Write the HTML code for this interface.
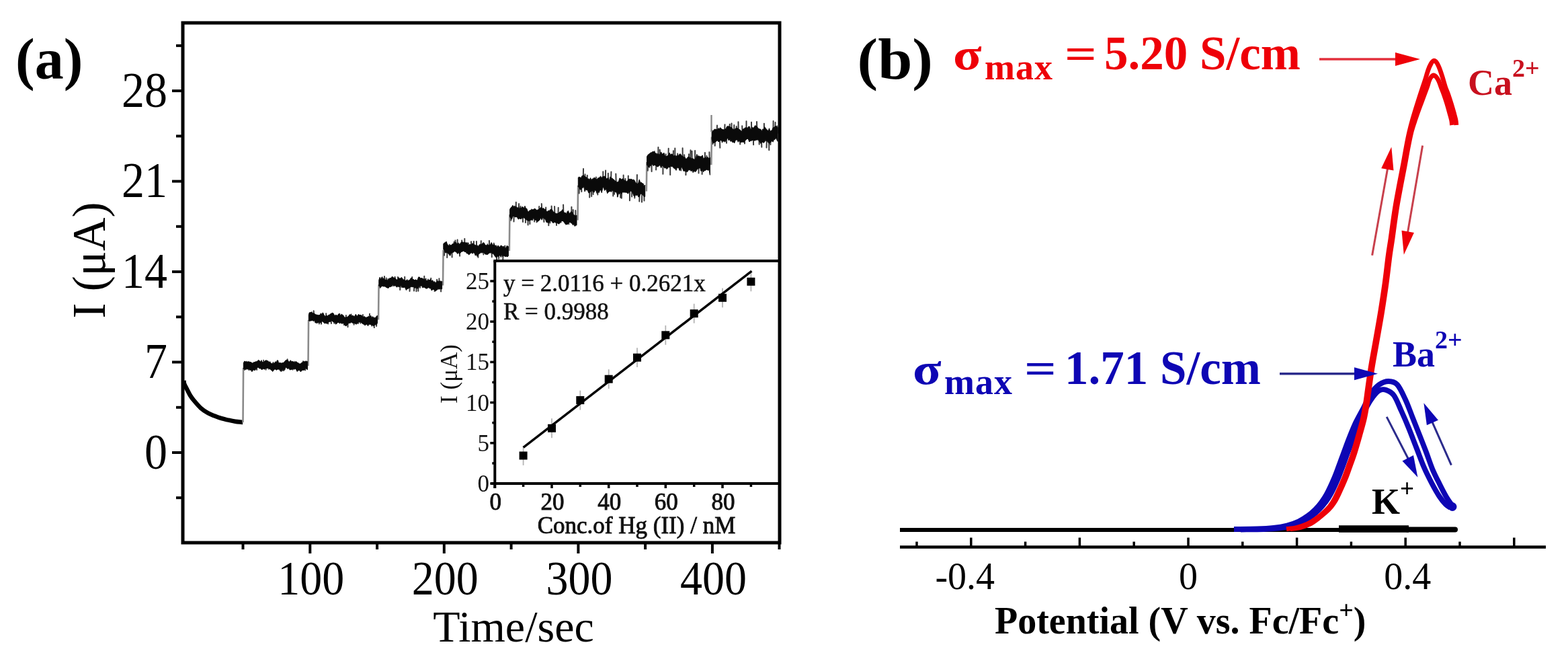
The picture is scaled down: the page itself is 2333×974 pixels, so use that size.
<!DOCTYPE html>
<html><head><meta charset="utf-8"><title>Figure</title>
<style>html,body{margin:0;padding:0;background:#fff;width:2333px;height:974px;overflow:hidden}svg{display:block;filter:blur(0.6px)}</style>
</head><body>
<svg width="2333" height="974" viewBox="0 0 2333 974"><g stroke="#000" fill="none" stroke-linecap="butt">
<line x1="256" y1="673.0" x2="272" y2="673.0" stroke-width="4"/>
<line x1="256" y1="538.5" x2="272" y2="538.5" stroke-width="4"/>
<line x1="256" y1="404.1" x2="272" y2="404.1" stroke-width="4"/>
<line x1="256" y1="269.6" x2="272" y2="269.6" stroke-width="4"/>
<line x1="256" y1="135.1" x2="272" y2="135.1" stroke-width="4"/>
<line x1="262" y1="740.2" x2="272" y2="740.2" stroke-width="4"/>
<line x1="262" y1="605.8" x2="272" y2="605.8" stroke-width="4"/>
<line x1="262" y1="471.3" x2="272" y2="471.3" stroke-width="4"/>
<line x1="262" y1="336.8" x2="272" y2="336.8" stroke-width="4"/>
<line x1="262" y1="202.4" x2="272" y2="202.4" stroke-width="4"/>
<line x1="262" y1="67.9" x2="272" y2="67.9" stroke-width="4"/>
<line x1="461.3" y1="807" x2="461.3" y2="823" stroke-width="4"/>
<line x1="660.8" y1="807" x2="660.8" y2="823" stroke-width="4"/>
<line x1="860.4" y1="807" x2="860.4" y2="823" stroke-width="4"/>
<line x1="1059.9" y1="807" x2="1059.9" y2="823" stroke-width="4"/>
<line x1="361.5" y1="807" x2="361.5" y2="817" stroke-width="4"/>
<line x1="561.1" y1="807" x2="561.1" y2="817" stroke-width="4"/>
<line x1="760.6" y1="807" x2="760.6" y2="817" stroke-width="4"/>
<line x1="960.1" y1="807" x2="960.1" y2="817" stroke-width="4"/>
<line x1="1159.5" y1="807" x2="1159.5" y2="817" stroke-width="4"/>
</g>
<path d="M273.5,566.0 C273.6,566.8 273.4,568.6 274.2,570.8 C275.0,573.0 276.8,576.1 278.3,579.0 C279.8,581.9 281.3,585.2 283.0,588.0 C284.7,590.8 285.9,592.4 288.5,595.5 C291.1,598.6 295.4,603.7 298.8,606.8 C302.2,609.9 305.7,612.0 309.1,614.0 C312.5,616.0 316.0,617.2 319.4,618.6 C322.8,620.0 326.2,621.2 329.6,622.2 C333.0,623.2 336.5,623.9 339.9,624.7 C343.3,625.5 346.9,626.3 350.2,626.8 C353.4,627.3 357.6,627.6 359.4,627.8 C361.2,628.0 360.7,628.0 361.0,628.0" fill="none" stroke="#000" stroke-width="6.5" stroke-linecap="butt"/>
<path d="M361.5,628.0 L362.1,547.0 M458.5,544.0 L459.1,476.0 M563.0,475.4 L563.6,423.3 M659.0,424.6 L659.6,371.5 M757.8,373.0 L758.4,319.0 M859.5,327.6 L860.1,275.7 M961.8,284.5 L962.4,241.0 M1058.3,245.3 L1058.9,203.5" fill="none" stroke="#8a8a8a" stroke-width="2.6"/>
<path d="M364.0,543.9 L363.9,550.1 M368.4,542.9 L367.9,548.6 M370.9,543.2 L370.5,550.3 M375.0,545.2 L374.8,552.0 M378.5,545.3 L379.1,539.9 M382.2,542.7 L382.1,550.1 M386.4,541.6 L386.1,547.4 M389.3,542.8 L389.0,536.2 M392.4,543.2 L392.2,535.8 M395.7,542.4 L395.6,549.7 M400.0,542.2 L400.0,548.7 M402.2,543.9 L401.6,538.2 M406.3,545.4 L406.5,539.0 M409.8,544.8 L409.8,538.3 M413.8,543.4 L413.5,536.8 M416.6,544.4 L416.7,550.8 M420.5,544.7 L420.7,551.1 M423.9,542.2 L423.8,549.1 M427.3,541.6 L427.6,534.2 M431.5,543.5 L431.6,549.4 M435.9,544.1 L435.5,549.7 M439.1,543.7 L438.6,537.8 M442.9,544.2 L442.5,551.5 M446.7,546.3 L447.2,552.0 M451.1,544.7 L451.0,537.3 M454.5,543.2 L454.1,550.4 M461.0,472.1 L460.4,466.1 M464.3,471.1 L463.9,464.2 M467.3,471.0 L466.7,462.3 M471.2,474.0 L471.8,480.3 M475.1,474.7 L474.9,481.5 M478.2,473.9 L478.0,481.7 M481.4,473.1 L480.9,467.1 M485.5,475.2 L485.2,466.2 M488.3,475.1 L488.2,481.6 M492.7,472.4 L492.9,481.0 M497.0,473.0 L497.3,480.7 M499.3,474.1 L499.6,481.4 M503.0,474.4 L503.5,468.4 M505.5,473.7 L505.3,466.7 M509.4,474.1 L509.6,480.8 M512.3,475.9 L511.9,483.1 M514.9,477.8 L514.9,468.9 M517.6,477.1 L517.5,486.3 M520.1,474.9 L519.9,468.8 M522.5,474.2 L522.6,467.5 M526.7,475.6 L526.6,482.8 M530.1,475.8 L529.6,468.8 M533.0,474.6 L533.0,480.9 M536.6,474.0 L536.4,480.6 M539.4,475.4 L539.9,468.0 M543.6,477.3 L543.0,483.2 M547.4,476.7 L547.5,484.1 M549.6,475.8 L550.0,466.8 M553.8,477.9 L553.3,484.6 M556.3,478.9 L556.8,487.1 M560.2,476.4 L560.1,484.9 M565.5,421.0 L565.6,427.8 M569.1,420.3 L568.7,412.3 M571.8,420.1 L572.0,411.0 M574.5,421.3 L574.7,413.5 M577.1,422.1 L577.4,414.9 M580.5,421.0 L580.4,414.2 M584.0,418.5 L583.6,425.2 M587.8,419.3 L587.6,411.7 M592.2,421.0 L592.0,412.0 M595.4,420.0 L595.2,431.0 M598.0,419.5 L597.4,426.8 M602.3,421.9 L602.2,411.8 M606.5,423.4 L605.9,416.3 M610.0,422.4 L609.5,433.0 M613.6,420.7 L613.2,412.0 M616.5,421.7 L616.0,432.4 M619.8,422.4 L619.4,433.3 M622.3,421.9 L622.3,432.8 M624.6,419.7 L625.1,427.8 M628.2,420.1 L628.6,427.2 M631.0,421.1 L631.3,410.8 M633.6,422.7 L633.6,414.5 M636.7,423.1 L636.9,415.6 M640.9,422.7 L641.2,413.7 M643.2,423.6 L643.3,430.5 M646.7,425.3 L646.6,433.1 M650.2,425.1 L650.1,415.7 M653.4,423.4 L653.4,414.2 M656.2,423.4 L656.1,433.4 M661.5,366.7 L661.0,379.7 M665.7,369.6 L665.2,383.0 M668.4,371.3 L668.8,363.7 M672.4,369.9 L672.6,382.5 M675.3,367.8 L675.6,359.8 M678.0,367.7 L677.4,357.6 M680.8,368.5 L680.6,356.6 M683.7,370.1 L684.1,380.6 M687.3,367.6 L687.2,357.6 M691.3,367.0 L691.3,355.1 M694.0,368.1 L694.4,376.1 M696.6,370.3 L696.9,361.6 M701.0,369.8 L701.0,359.3 M705.1,369.5 L704.9,358.9 M709.2,372.4 L708.9,359.0 M711.9,372.2 L711.4,382.7 M715.5,370.7 L715.8,358.3 M719.6,368.9 L719.4,378.5 M722.7,370.2 L723.1,378.1 M724.9,372.3 L725.4,363.2 M728.3,370.9 L727.9,357.9 M731.5,370.1 L731.8,382.3 M735.2,371.2 L734.8,361.8 M739.4,374.2 L739.0,386.4 M742.6,373.7 L742.1,384.8 M745.8,372.9 L745.5,381.8 M748.7,373.3 L748.3,386.0 M751.3,374.9 L751.3,365.5 M753.8,374.7 L754.4,366.1 M760.3,316.9 L760.3,327.7 M764.7,314.3 L764.5,329.6 M767.7,314.2 L767.8,300.7 M771.7,317.7 L772.1,303.1 M775.1,317.8 L774.5,306.8 M777.8,316.3 L778.0,329.9 M781.8,317.2 L781.9,330.9 M785.4,320.8 L785.6,334.4 M788.1,320.7 L788.4,333.1 M790.5,320.2 L790.9,311.4 M794.8,317.9 L795.2,329.6 M798.9,319.7 L798.6,330.4 M802.0,319.1 L802.2,307.0 M806.4,316.4 L805.8,303.1 M808.8,316.5 L809.4,329.9 M812.1,320.3 L812.2,308.5 M816.4,322.7 L816.3,335.2 M818.9,321.2 L818.4,331.5 M821.1,320.8 L820.6,306.5 M825.5,323.0 L825.1,307.1 M827.8,324.5 L828.0,335.0 M830.4,323.8 L830.7,308.7 M834.6,321.2 L834.7,330.4 M838.4,320.8 L838.1,304.4 M842.8,325.0 L842.2,333.6 M846.5,324.1 L846.3,333.3 M850.4,323.5 L850.4,307.7 M852.7,325.3 L852.7,311.9 M856.5,328.1 L856.3,312.9 M862.0,271.3 L861.6,287.5 M865.2,272.2 L865.3,285.1 M867.7,270.0 L868.0,251.0 M870.4,270.8 L870.5,259.3 M873.7,273.5 L873.8,260.8 M877.5,276.7 L877.2,293.6 M879.9,277.2 L880.2,292.1 M882.2,274.9 L882.6,289.0 M886.4,274.0 L886.9,263.4 M889.7,276.0 L889.3,289.4 M893.8,274.9 L893.7,262.6 M897.4,271.5 L897.3,255.3 M900.8,271.8 L901.1,253.5 M905.0,276.1 L904.8,257.8 M908.9,275.7 L909.4,255.6 M912.2,275.3 L912.3,291.6 M914.5,275.8 L914.1,288.8 M916.9,278.0 L916.3,258.5 M919.3,279.8 L918.8,292.4 M922.9,277.6 L923.2,293.8 M925.3,276.4 L924.8,294.8 M927.8,276.6 L927.6,260.6 M930.3,277.7 L930.4,265.7 M934.5,278.4 L934.8,261.6 M937.1,277.4 L936.9,298.2 M940.2,276.1 L940.1,292.4 M944.6,280.3 L944.3,294.5 M947.6,281.4 L947.9,260.1 M951.9,279.7 L951.3,299.5 M955.3,279.7 L955.0,300.5 M958.4,284.1 L958.5,298.6 M964.3,238.7 L963.8,253.7 M966.9,237.1 L966.4,248.7 M969.5,235.6 L969.6,255.1 M973.5,235.9 L973.8,225.3 M976.5,238.1 L976.1,252.4 M979.3,239.5 L979.4,219.1 M982.3,237.5 L981.7,222.8 M986.5,237.7 L986.4,258.8 M990.1,240.2 L990.7,229.3 M994.3,241.1 L994.7,220.7 M997.2,238.9 L997.2,260.0 M1001.6,239.1 L1001.9,224.3 M1004.3,240.7 L1004.3,220.6 M1008.3,240.7 L1008.2,228.4 M1011.0,238.9 L1011.0,252.6 M1013.4,238.9 L1013.3,253.6 M1015.8,239.9 L1015.6,220.3 M1018.5,243.8 L1018.2,230.2 M1020.8,245.9 L1020.4,260.1 M1024.6,242.7 L1025.0,229.3 M1027.1,242.9 L1027.5,223.2 M1029.7,243.1 L1029.5,224.7 M1034.1,245.1 L1034.1,224.1 M1036.8,243.1 L1037.1,231.2 M1039.6,240.7 L1039.5,257.6 M1042.4,240.7 L1042.8,253.5 M1044.9,242.7 L1044.6,259.1 M1048.8,244.6 L1048.9,226.9 M1051.8,243.2 L1051.4,231.8 M1055.9,244.1 L1055.4,226.3 M1060.8,202.0 L1060.6,214.0 M1064.0,202.9 L1063.7,216.7 M1066.4,201.5 L1067.0,186.5 M1070.7,199.5 L1071.3,219.8 M1074.3,200.7 L1074.5,211.6 M1077.9,201.3 L1078.5,185.2 M1081.2,199.5 L1081.0,212.8 M1085.5,197.0 L1085.7,184.8 M1088.7,200.6 L1088.5,183.5 M1092.2,201.8 L1092.3,186.1 M1095.3,200.2 L1095.8,188.0 M1098.8,200.4 L1098.5,181.3 M1101.2,201.8 L1101.2,214.6 M1104.7,203.5 L1104.2,187.3 M1108.1,202.4 L1108.0,213.5 M1110.5,199.5 L1110.5,180.3 M1114.3,198.6 L1114.9,210.1 M1118.2,200.5 L1118.0,181.7 M1120.7,199.3 L1121.1,215.3 M1123.3,197.8 L1122.9,208.6 M1126.3,197.4 L1126.0,181.0 M1129.2,200.0 L1129.7,214.6 M1132.8,202.7 L1133.3,218.8 M1137.0,201.7 L1136.9,183.8 M1141.0,200.9 L1140.5,219.6 M1144.1,203.2 L1144.3,223.2 M1146.4,203.8 L1146.4,215.1 M1150.4,199.9 L1150.6,180.1 M1153.2,196.8 L1153.6,181.9 M1156.7,198.0 L1156.3,187.5" fill="none" stroke="#3a3a3a" stroke-width="2" stroke-linecap="round"/>
<path d="M362.3,540.0 L363.7,537.0 L365.1,538.1 L366.5,537.3 L367.9,538.2 L369.3,537.7 L370.7,537.9 L372.1,538.5 L373.5,538.4 L374.9,540.1 L376.3,539.9 L377.7,538.4 L379.1,539.0 L380.5,537.4 L381.9,538.0 L383.3,536.4 L384.7,535.4 L386.1,536.5 L387.5,537.7 L388.9,537.1 L390.3,538.2 L391.7,538.5 L393.1,538.0 L394.5,536.5 L395.9,535.6 L397.3,536.6 L398.7,536.6 L400.1,538.5 L401.5,538.7 L402.9,539.8 L404.3,540.7 L405.7,540.2 L407.1,540.4 L408.5,539.8 L409.9,538.4 L411.3,538.5 L412.7,535.5 L414.1,539.2 L415.5,539.6 L416.9,539.6 L418.3,540.1 L419.7,539.8 L421.1,539.5 L422.5,539.0 L423.9,537.1 L425.3,535.6 L426.7,535.8 L428.1,535.4 L429.5,537.7 L430.9,538.1 L432.3,535.7 L433.7,537.7 L435.1,537.6 L436.5,537.8 L437.9,539.0 L439.3,538.9 L440.7,537.4 L442.1,539.3 L443.5,539.2 L444.9,541.1 L446.3,540.9 L447.7,540.8 L449.1,539.0 L450.5,538.9 L451.9,537.8 L453.3,537.7 L454.7,537.1 L456.1,537.2 L457.5,537.5 L457.5,549.7 L456.1,548.7 L454.7,547.3 L453.3,549.6 L451.9,550.4 L450.5,550.5 L449.1,550.8 L447.7,552.6 L446.3,551.1 L444.9,550.6 L443.5,550.9 L442.1,552.3 L440.7,549.7 L439.3,548.2 L437.9,549.3 L436.5,548.5 L435.1,548.8 L433.7,549.5 L432.3,549.6 L430.9,549.4 L429.5,547.6 L428.1,548.5 L426.7,547.2 L425.3,546.2 L423.9,548.1 L422.5,551.6 L421.1,548.9 L419.7,550.0 L418.3,552.9 L416.9,549.8 L415.5,549.4 L414.1,549.0 L412.7,549.3 L411.3,550.4 L409.9,549.0 L408.5,549.3 L407.1,550.4 L405.7,552.5 L404.3,550.7 L402.9,549.9 L401.5,548.6 L400.1,547.9 L398.7,547.2 L397.3,547.9 L395.9,547.2 L394.5,548.5 L393.1,549.2 L391.7,547.9 L390.3,549.6 L388.9,549.2 L387.5,547.9 L386.1,547.4 L384.7,546.7 L383.3,546.4 L381.9,547.6 L380.5,549.2 L379.1,551.0 L377.7,550.0 L376.3,550.8 L374.9,552.3 L373.5,550.3 L372.1,550.3 L370.7,548.4 L369.3,549.4 L367.9,547.7 L366.5,549.0 L365.1,549.5 L363.7,548.3 L362.3,548.7 Z M459.3,468.4 L460.7,464.6 L462.1,464.7 L463.5,464.5 L464.9,465.5 L466.3,466.0 L467.7,466.1 L469.1,467.5 L470.5,468.0 L471.9,468.2 L473.3,468.7 L474.7,468.5 L476.1,468.4 L477.5,465.7 L478.9,467.9 L480.3,464.8 L481.7,467.7 L483.1,469.9 L484.5,470.2 L485.9,469.1 L487.3,470.3 L488.7,468.4 L490.1,468.4 L491.5,466.8 L492.9,466.2 L494.3,465.4 L495.7,465.6 L497.1,467.9 L498.5,469.3 L499.9,468.0 L501.3,469.4 L502.7,468.5 L504.1,466.5 L505.5,467.9 L506.9,469.2 L508.3,466.9 L509.7,468.4 L511.1,469.3 L512.5,471.9 L513.9,472.1 L515.3,471.6 L516.7,471.7 L518.1,470.1 L519.5,470.2 L520.9,467.4 L522.3,469.4 L523.7,469.5 L525.1,469.3 L526.5,470.3 L527.9,470.2 L529.3,467.3 L530.7,470.5 L532.1,469.6 L533.5,467.2 L534.9,468.6 L536.3,468.5 L537.7,468.7 L539.1,470.6 L540.5,471.3 L541.9,470.5 L543.3,471.5 L544.7,472.2 L546.1,471.8 L547.5,470.9 L548.9,470.6 L550.3,471.3 L551.7,469.1 L553.1,472.8 L554.5,470.6 L555.9,472.4 L557.3,472.4 L558.7,472.4 L560.1,470.3 L561.5,469.3 L561.5,480.5 L560.1,482.8 L558.7,482.7 L557.3,483.8 L555.9,484.7 L554.5,483.7 L553.1,483.5 L551.7,482.8 L550.3,482.4 L548.9,482.0 L547.5,484.1 L546.1,482.1 L544.7,482.5 L543.3,483.5 L541.9,482.3 L540.5,482.1 L539.1,481.1 L537.7,479.5 L536.3,478.8 L534.9,479.1 L533.5,478.9 L532.1,479.5 L530.7,482.1 L529.3,481.8 L527.9,480.8 L526.5,480.4 L525.1,480.7 L523.7,479.5 L522.3,479.2 L520.9,480.7 L519.5,480.3 L518.1,481.1 L516.7,483.2 L515.3,484.4 L513.9,484.6 L512.5,482.6 L511.1,480.7 L509.7,480.1 L508.3,481.3 L506.9,479.6 L505.5,481.2 L504.1,479.5 L502.7,479.4 L501.3,481.0 L499.9,481.9 L498.5,479.1 L497.1,478.9 L495.7,478.7 L494.3,477.4 L492.9,476.5 L491.5,478.6 L490.1,478.2 L488.7,478.9 L487.3,481.0 L485.9,481.1 L484.5,480.4 L483.1,481.0 L481.7,479.7 L480.3,478.3 L478.9,477.7 L477.5,480.3 L476.1,479.4 L474.7,480.3 L473.3,479.5 L471.9,479.4 L470.5,480.1 L469.1,480.0 L467.7,476.5 L466.3,477.8 L464.9,476.3 L463.5,476.9 L462.1,476.9 L460.7,477.5 L459.3,476.8 Z M563.8,416.4 L565.2,412.2 L566.6,415.5 L568.0,412.3 L569.4,414.5 L570.8,414.0 L572.2,415.0 L573.6,416.3 L575.0,415.5 L576.4,417.0 L577.8,416.8 L579.2,414.0 L580.6,413.7 L582.0,413.5 L583.4,411.2 L584.8,412.1 L586.2,413.6 L587.6,413.0 L589.0,415.0 L590.4,416.0 L591.8,415.5 L593.2,412.8 L594.6,414.1 L596.0,414.0 L597.4,412.3 L598.8,414.2 L600.2,415.9 L601.6,415.9 L603.0,417.9 L604.4,416.7 L605.8,417.5 L607.2,417.3 L608.6,416.7 L610.0,416.1 L611.4,413.4 L612.8,413.5 L614.2,415.5 L615.6,415.6 L617.0,417.1 L618.4,415.6 L619.8,416.9 L621.2,416.6 L622.6,412.1 L624.0,411.9 L625.4,413.7 L626.8,413.7 L628.2,413.7 L629.6,414.7 L631.0,415.5 L632.4,414.9 L633.8,417.7 L635.2,417.0 L636.6,417.5 L638.0,416.5 L639.4,416.3 L640.8,415.3 L642.2,418.1 L643.6,416.6 L645.0,419.6 L646.4,418.4 L647.8,420.5 L649.2,419.8 L650.6,417.3 L652.0,418.7 L653.4,417.8 L654.8,418.1 L656.2,418.2 L657.6,418.5 L657.6,429.7 L656.2,429.7 L654.8,429.6 L653.4,430.2 L652.0,429.6 L650.6,431.0 L649.2,431.8 L647.8,433.1 L646.4,430.9 L645.0,430.3 L643.6,430.3 L642.2,432.1 L640.8,428.7 L639.4,429.0 L638.0,427.4 L636.6,428.1 L635.2,429.1 L633.8,428.9 L632.4,428.0 L631.0,426.9 L629.6,427.6 L628.2,425.2 L626.8,424.9 L625.4,425.6 L624.0,424.7 L622.6,428.7 L621.2,428.7 L619.8,429.1 L618.4,427.7 L617.0,428.3 L615.6,426.8 L614.2,426.7 L612.8,426.6 L611.4,426.6 L610.0,427.2 L608.6,428.2 L607.2,429.4 L605.8,429.2 L604.4,431.6 L603.0,428.1 L601.6,427.2 L600.2,427.6 L598.8,427.6 L597.4,424.9 L596.0,424.6 L594.6,426.8 L593.2,426.3 L591.8,426.0 L590.4,427.0 L589.0,425.8 L587.6,424.3 L586.2,425.9 L584.8,423.6 L583.4,423.9 L582.0,426.2 L580.6,426.5 L579.2,426.6 L577.8,428.6 L576.4,428.0 L575.0,427.4 L573.6,426.5 L572.2,425.8 L570.8,426.0 L569.4,425.5 L568.0,425.3 L566.6,427.3 L565.2,426.5 L563.8,425.1 Z M659.8,362.5 L661.2,361.2 L662.6,360.5 L664.0,359.1 L665.4,362.7 L666.8,364.9 L668.2,365.4 L669.6,364.5 L671.0,364.9 L672.4,363.4 L673.8,362.6 L675.2,362.2 L676.6,361.1 L678.0,360.1 L679.4,362.3 L680.8,362.4 L682.2,361.2 L683.6,363.5 L685.0,361.7 L686.4,360.0 L687.8,359.9 L689.2,360.3 L690.6,360.8 L692.0,360.0 L693.4,361.5 L694.8,360.3 L696.2,364.1 L697.6,364.5 L699.0,363.4 L700.4,364.0 L701.8,363.5 L703.2,361.6 L704.6,363.7 L706.0,363.9 L707.4,364.4 L708.8,365.7 L710.2,364.7 L711.6,366.4 L713.0,364.2 L714.4,363.3 L715.8,363.6 L717.2,362.9 L718.6,360.9 L720.0,360.9 L721.4,363.3 L722.8,365.1 L724.2,364.7 L725.6,364.0 L727.0,365.0 L728.4,364.6 L729.8,363.4 L731.2,360.6 L732.6,363.5 L734.0,364.6 L735.4,363.0 L736.8,366.2 L738.2,364.7 L739.6,367.8 L741.0,364.9 L742.4,367.1 L743.8,367.3 L745.2,365.1 L746.6,365.4 L748.0,367.4 L749.4,365.9 L750.8,368.5 L752.2,369.5 L753.6,366.9 L755.0,366.1 L756.4,366.5 L756.4,380.6 L755.0,381.9 L753.6,381.2 L752.2,381.6 L750.8,381.0 L749.4,380.0 L748.0,381.8 L746.6,378.6 L745.2,381.7 L743.8,379.7 L742.4,380.6 L741.0,381.6 L739.6,380.7 L738.2,382.9 L736.8,381.6 L735.4,379.5 L734.0,377.1 L732.6,377.3 L731.2,375.8 L729.8,376.0 L728.4,376.1 L727.0,376.7 L725.6,378.7 L724.2,378.1 L722.8,377.4 L721.4,377.5 L720.0,375.4 L718.6,375.6 L717.2,376.0 L715.8,375.6 L714.4,376.5 L713.0,377.3 L711.6,377.8 L710.2,381.6 L708.8,378.5 L707.4,380.2 L706.0,376.6 L704.6,375.5 L703.2,377.3 L701.8,375.8 L700.4,376.3 L699.0,377.7 L697.6,379.0 L696.2,376.9 L694.8,377.0 L693.4,373.8 L692.0,375.0 L690.6,373.7 L689.2,373.1 L687.8,374.2 L686.4,374.3 L685.0,376.2 L683.6,377.6 L682.2,375.3 L680.8,377.5 L679.4,375.5 L678.0,374.4 L676.6,373.7 L675.2,374.6 L673.8,375.6 L672.4,375.7 L671.0,377.2 L669.6,380.4 L668.2,378.2 L666.8,377.1 L665.4,375.2 L664.0,376.0 L662.6,375.8 L661.2,372.2 L659.8,370.7 Z M758.6,311.3 L760.0,308.9 L761.4,307.7 L762.8,305.3 L764.2,307.5 L765.6,305.9 L767.0,307.7 L768.4,307.6 L769.8,309.3 L771.2,308.5 L772.6,311.0 L774.0,308.3 L775.4,310.2 L776.8,307.7 L778.2,307.7 L779.6,309.9 L781.0,306.3 L782.4,310.0 L783.8,310.2 L785.2,314.2 L786.6,314.9 L788.0,312.9 L789.4,312.7 L790.8,312.2 L792.2,311.7 L793.6,311.6 L795.0,310.5 L796.4,310.5 L797.8,312.3 L799.2,312.4 L800.6,311.7 L802.0,311.6 L803.4,309.7 L804.8,308.3 L806.2,309.9 L807.6,309.9 L809.0,309.7 L810.4,311.5 L811.8,310.9 L813.2,314.6 L814.6,314.5 L816.0,313.1 L817.4,313.5 L818.8,311.5 L820.2,311.2 L821.6,311.9 L823.0,315.1 L824.4,315.2 L825.8,317.2 L827.2,317.2 L828.6,317.7 L830.0,317.3 L831.4,316.9 L832.8,315.1 L834.2,314.8 L835.6,313.5 L837.0,311.5 L838.4,314.6 L839.8,316.8 L841.2,316.1 L842.6,318.3 L844.0,314.8 L845.4,313.3 L846.8,317.3 L848.2,317.1 L849.6,314.7 L851.0,315.0 L852.4,317.5 L853.8,320.0 L855.2,320.0 L856.6,321.0 L858.0,320.0 L858.0,334.8 L856.6,335.3 L855.2,336.5 L853.8,333.6 L852.4,334.7 L851.0,332.0 L849.6,331.7 L848.2,330.5 L846.8,330.4 L845.4,332.5 L844.0,333.8 L842.6,333.0 L841.2,333.1 L839.8,331.3 L838.4,329.2 L837.0,328.5 L835.6,328.3 L834.2,329.8 L832.8,332.1 L831.4,333.1 L830.0,332.2 L828.6,331.3 L827.2,331.4 L825.8,330.4 L824.4,330.6 L823.0,331.8 L821.6,330.1 L820.2,328.0 L818.8,328.3 L817.4,330.0 L816.0,331.5 L814.6,330.8 L813.2,330.8 L811.8,327.2 L810.4,325.0 L809.0,324.3 L807.6,323.5 L806.2,327.2 L804.8,323.8 L803.4,326.3 L802.0,328.1 L800.6,329.0 L799.2,329.7 L797.8,327.0 L796.4,327.4 L795.0,325.1 L793.6,324.5 L792.2,327.8 L790.8,326.8 L789.4,327.5 L788.0,327.8 L786.6,328.6 L785.2,328.0 L783.8,327.3 L782.4,326.1 L781.0,325.1 L779.6,323.6 L778.2,325.0 L776.8,323.5 L775.4,325.8 L774.0,325.1 L772.6,325.1 L771.2,326.1 L769.8,323.6 L768.4,322.4 L767.0,322.9 L765.6,322.2 L764.2,320.9 L762.8,322.0 L761.4,326.0 L760.0,324.7 L758.6,322.4 Z M860.3,264.0 L861.7,263.1 L863.1,263.8 L864.5,264.6 L865.9,261.6 L867.3,261.1 L868.7,260.6 L870.1,263.1 L871.5,263.1 L872.9,264.0 L874.3,266.2 L875.7,265.7 L877.1,267.8 L878.5,264.4 L879.9,267.9 L881.3,265.9 L882.7,265.9 L884.1,263.9 L885.5,265.0 L886.9,266.5 L888.3,267.1 L889.7,264.6 L891.1,265.0 L892.5,263.0 L893.9,263.8 L895.3,264.3 L896.7,262.4 L898.1,262.6 L899.5,262.1 L900.9,263.0 L902.3,266.0 L903.7,265.1 L905.1,264.1 L906.5,269.0 L907.9,262.8 L909.3,265.5 L910.7,264.8 L912.1,266.4 L913.5,267.0 L914.9,269.3 L916.3,269.1 L917.7,271.2 L919.1,270.7 L920.5,270.0 L921.9,264.9 L923.3,265.6 L924.7,266.9 L926.1,265.8 L927.5,266.3 L928.9,268.8 L930.3,267.8 L931.7,269.7 L933.1,270.0 L934.5,267.4 L935.9,266.2 L937.3,266.5 L938.7,266.3 L940.1,266.8 L941.5,267.5 L942.9,267.0 L944.3,268.7 L945.7,271.7 L947.1,272.4 L948.5,273.8 L949.9,271.7 L951.3,266.9 L952.7,271.7 L954.1,271.0 L955.5,272.7 L956.9,272.9 L958.3,276.4 L959.7,275.0 L959.7,292.3 L958.3,292.5 L956.9,290.4 L955.5,288.8 L954.1,288.0 L952.7,288.6 L951.3,292.4 L949.9,293.0 L948.5,289.5 L947.1,290.8 L945.7,289.4 L944.3,292.4 L942.9,291.2 L941.5,287.0 L940.1,285.0 L938.7,284.1 L937.3,285.1 L935.9,285.3 L934.5,288.2 L933.1,286.7 L931.7,286.0 L930.3,286.2 L928.9,285.8 L927.5,286.1 L926.1,285.7 L924.7,288.2 L923.3,285.8 L921.9,288.3 L920.5,287.4 L919.1,292.4 L917.7,287.1 L916.3,285.8 L914.9,284.8 L913.5,284.8 L912.1,283.0 L910.7,283.6 L909.3,285.6 L907.9,284.2 L906.5,284.9 L905.1,285.7 L903.7,287.7 L902.3,282.6 L900.9,281.5 L899.5,283.4 L898.1,278.6 L896.7,279.2 L895.3,286.7 L893.9,282.2 L892.5,283.6 L891.1,286.7 L889.7,283.8 L888.3,287.8 L886.9,284.1 L885.5,282.3 L884.1,285.9 L882.7,285.8 L881.3,283.2 L879.9,284.3 L878.5,284.9 L877.1,286.7 L875.7,286.8 L874.3,282.6 L872.9,282.7 L871.5,281.5 L870.1,285.0 L868.7,277.6 L867.3,279.3 L865.9,279.1 L864.5,282.3 L863.1,281.8 L861.7,278.5 L860.3,277.9 Z M962.6,232.8 L964.0,230.3 L965.4,229.3 L966.8,228.1 L968.2,227.0 L969.6,226.7 L971.0,225.6 L972.4,225.6 L973.8,226.0 L975.2,228.0 L976.6,227.9 L978.0,229.4 L979.4,228.1 L980.8,230.2 L982.2,229.7 L983.6,225.9 L985.0,229.0 L986.4,229.1 L987.8,227.1 L989.2,231.2 L990.6,232.9 L992.0,232.3 L993.4,231.6 L994.8,230.8 L996.2,227.1 L997.6,230.6 L999.0,228.9 L1000.4,229.2 L1001.8,231.7 L1003.2,232.1 L1004.6,230.5 L1006.0,233.4 L1007.4,230.9 L1008.8,232.1 L1010.2,230.3 L1011.6,228.8 L1013.0,229.4 L1014.4,232.0 L1015.8,232.1 L1017.2,233.8 L1018.6,233.2 L1020.0,235.9 L1021.4,236.3 L1022.8,234.5 L1024.2,233.0 L1025.6,234.1 L1027.0,234.2 L1028.4,235.4 L1029.8,235.9 L1031.2,235.7 L1032.6,237.1 L1034.0,237.3 L1035.4,234.7 L1036.8,229.4 L1038.2,232.9 L1039.6,231.5 L1041.0,232.9 L1042.4,232.7 L1043.8,232.8 L1045.2,230.8 L1046.6,236.6 L1048.0,234.9 L1049.4,233.3 L1050.8,235.5 L1052.2,233.5 L1053.6,234.2 L1055.0,236.4 L1056.4,234.4 L1056.4,260.3 L1055.0,252.1 L1053.6,253.6 L1052.2,252.0 L1050.8,252.5 L1049.4,253.7 L1048.0,253.5 L1046.6,255.7 L1045.2,252.1 L1043.8,254.6 L1042.4,251.3 L1041.0,248.9 L1039.6,250.9 L1038.2,250.8 L1036.8,252.5 L1035.4,255.0 L1034.0,255.4 L1032.6,254.0 L1031.2,256.7 L1029.8,252.9 L1028.4,254.8 L1027.0,252.6 L1025.6,252.9 L1024.2,252.8 L1022.8,255.5 L1021.4,255.1 L1020.0,255.3 L1018.6,254.1 L1017.2,254.6 L1015.8,251.2 L1014.4,248.4 L1013.0,249.2 L1011.6,253.6 L1010.2,249.9 L1008.8,249.8 L1007.4,249.1 L1006.0,253.4 L1004.6,250.8 L1003.2,250.7 L1001.8,249.2 L1000.4,247.6 L999.0,247.7 L997.6,246.7 L996.2,249.0 L994.8,248.3 L993.4,250.2 L992.0,251.6 L990.6,249.2 L989.2,250.2 L987.8,248.4 L986.4,246.3 L985.0,246.5 L983.6,249.8 L982.2,245.5 L980.8,246.2 L979.4,247.8 L978.0,247.9 L976.6,247.0 L975.2,246.0 L973.8,245.3 L972.4,246.8 L971.0,244.5 L969.6,244.0 L968.2,246.8 L966.8,246.0 L965.4,248.8 L964.0,247.4 L962.6,245.3 Z M1059.1,193.0 L1060.5,194.9 L1061.9,193.6 L1063.3,192.0 L1064.7,192.3 L1066.1,192.8 L1067.5,192.8 L1068.9,190.6 L1070.3,191.7 L1071.7,189.7 L1073.1,191.4 L1074.5,192.3 L1075.9,192.6 L1077.3,193.2 L1078.7,191.8 L1080.1,191.7 L1081.5,188.2 L1082.9,187.7 L1084.3,188.0 L1085.7,188.0 L1087.1,189.5 L1088.5,189.3 L1089.9,192.0 L1091.3,192.2 L1092.7,193.1 L1094.1,191.2 L1095.5,190.6 L1096.9,190.3 L1098.3,191.6 L1099.7,192.5 L1101.1,193.0 L1102.5,194.4 L1103.9,195.5 L1105.3,191.9 L1106.7,191.7 L1108.1,190.2 L1109.5,189.8 L1110.9,189.7 L1112.3,190.5 L1113.7,188.2 L1115.1,188.0 L1116.5,191.8 L1117.9,192.8 L1119.3,188.9 L1120.7,190.6 L1122.1,188.9 L1123.5,186.7 L1124.9,187.3 L1126.3,188.0 L1127.7,190.6 L1129.1,191.4 L1130.5,192.0 L1131.9,192.2 L1133.3,195.6 L1134.7,191.9 L1136.1,192.5 L1137.5,188.6 L1138.9,190.3 L1140.3,192.2 L1141.7,193.2 L1143.1,195.1 L1144.5,190.7 L1145.9,195.6 L1147.3,194.1 L1148.7,193.8 L1150.1,189.9 L1151.5,189.5 L1152.9,188.5 L1154.3,187.0 L1155.7,189.1 L1157.1,189.3 L1157.1,210.3 L1155.7,207.7 L1154.3,204.8 L1152.9,207.6 L1151.5,207.6 L1150.1,211.2 L1148.7,209.3 L1147.3,211.3 L1145.9,211.8 L1144.5,213.6 L1143.1,212.1 L1141.7,209.7 L1140.3,210.1 L1138.9,208.3 L1137.5,211.3 L1136.1,212.4 L1134.7,211.3 L1133.3,211.6 L1131.9,213.4 L1130.5,211.3 L1129.1,209.4 L1127.7,207.8 L1126.3,208.2 L1124.9,207.9 L1123.5,209.0 L1122.1,208.3 L1120.7,208.5 L1119.3,208.6 L1117.9,209.3 L1116.5,209.4 L1115.1,210.6 L1113.7,207.8 L1112.3,206.1 L1110.9,206.9 L1109.5,208.7 L1108.1,208.7 L1106.7,211.8 L1105.3,211.1 L1103.9,211.2 L1102.5,211.6 L1101.1,211.6 L1099.7,209.2 L1098.3,211.3 L1096.9,207.9 L1095.5,208.1 L1094.1,209.0 L1092.7,212.9 L1091.3,210.9 L1089.9,211.8 L1088.5,209.3 L1087.1,210.4 L1085.7,207.3 L1084.3,209.0 L1082.9,205.7 L1081.5,206.1 L1080.1,208.8 L1078.7,211.2 L1077.3,210.0 L1075.9,210.0 L1074.5,210.3 L1073.1,208.8 L1071.7,208.6 L1070.3,210.0 L1068.9,210.9 L1067.5,208.8 L1066.1,209.6 L1064.7,211.2 L1063.3,211.7 L1061.9,212.4 L1060.5,212.5 L1059.1,207.0 Z" fill="#0a0a0a" stroke="#0a0a0a" stroke-width="1" stroke-linejoin="round"/>
<line x1="1058.5" y1="196" x2="1058.5" y2="171" stroke="#888" stroke-width="2.4"/>
<text x="23" y="117" style="font-family:'Liberation Serif','Times New Roman',serif;font-weight:bold;font-size:86px" fill="#000">(a)</text>
<text transform="translate(249,696.5) scale(1,1.075)" text-anchor="end" style="font-family:'Liberation Serif','Times New Roman',serif;font-size:68px" fill="#000">0</text>
<text transform="translate(249,562.0) scale(1,1.075)" text-anchor="end" style="font-family:'Liberation Serif','Times New Roman',serif;font-size:68px" fill="#000">7</text>
<text transform="translate(249,427.6) scale(1,1.075)" text-anchor="end" style="font-family:'Liberation Serif','Times New Roman',serif;font-size:68px" fill="#000">14</text>
<text transform="translate(249,293.1) scale(1,1.075)" text-anchor="end" style="font-family:'Liberation Serif','Times New Roman',serif;font-size:68px" fill="#000">21</text>
<text transform="translate(249,158.6) scale(1,1.075)" text-anchor="end" style="font-family:'Liberation Serif','Times New Roman',serif;font-size:68px" fill="#000">28</text>
<text transform="translate(462.8,884) scale(0.97,1.06)" text-anchor="middle" style="font-family:'Liberation Serif','Times New Roman',serif;font-size:68px" fill="#000">100</text>
<text transform="translate(662.3,884) scale(0.97,1.06)" text-anchor="middle" style="font-family:'Liberation Serif','Times New Roman',serif;font-size:68px" fill="#000">200</text>
<text transform="translate(861.9,884) scale(0.97,1.06)" text-anchor="middle" style="font-family:'Liberation Serif','Times New Roman',serif;font-size:68px" fill="#000">300</text>
<text transform="translate(1061.4,884) scale(0.97,1.06)" text-anchor="middle" style="font-family:'Liberation Serif','Times New Roman',serif;font-size:68px" fill="#000">400</text>
<text x="764" y="954" text-anchor="middle" style="font-family:'Liberation Serif','Times New Roman',serif;font-size:66px" fill="#000">Time/sec</text>
<text transform="translate(156,387) rotate(-90)" x="0" y="0" text-anchor="middle" style="font-family:'Liberation Serif','Times New Roman',serif;font-size:69px" fill="#000">I (μA)</text>
<rect x="734.3" y="386.0" width="425.7" height="419.0" fill="#fff" stroke="none"/>
<g stroke="#000" fill="none">
<line x1="734.3" y1="388.0" x2="1158.0" y2="388.0" stroke-width="4"/>
<line x1="736.3" y1="388.0" x2="736.3" y2="726.0" stroke-width="4"/>
<line x1="730.3" y1="719.0" x2="1158.0" y2="719.0" stroke-width="4"/>
<line x1="729.3" y1="719.0" x2="736.3" y2="719.0" stroke-width="3.5"/>
<line x1="729.3" y1="658.8" x2="736.3" y2="658.8" stroke-width="3.5"/>
<line x1="729.3" y1="598.6" x2="736.3" y2="598.6" stroke-width="3.5"/>
<line x1="729.3" y1="538.4" x2="736.3" y2="538.4" stroke-width="3.5"/>
<line x1="729.3" y1="478.2" x2="736.3" y2="478.2" stroke-width="3.5"/>
<line x1="729.3" y1="418.0" x2="736.3" y2="418.0" stroke-width="3.5"/>
<line x1="732.3" y1="688.9" x2="736.3" y2="688.9" stroke-width="3.5"/>
<line x1="732.3" y1="628.7" x2="736.3" y2="628.7" stroke-width="3.5"/>
<line x1="732.3" y1="568.5" x2="736.3" y2="568.5" stroke-width="3.5"/>
<line x1="732.3" y1="508.3" x2="736.3" y2="508.3" stroke-width="3.5"/>
<line x1="732.3" y1="448.1" x2="736.3" y2="448.1" stroke-width="3.5"/>
<line x1="736.3" y1="719" x2="736.3" y2="726.0" stroke-width="3.5"/>
<line x1="778.6" y1="719" x2="778.6" y2="724.0" stroke-width="3.5"/>
<line x1="821.0" y1="719" x2="821.0" y2="726.0" stroke-width="3.5"/>
<line x1="863.3" y1="719" x2="863.3" y2="724.0" stroke-width="3.5"/>
<line x1="905.7" y1="719" x2="905.7" y2="726.0" stroke-width="3.5"/>
<line x1="948.0" y1="719" x2="948.0" y2="724.0" stroke-width="3.5"/>
<line x1="990.3" y1="719" x2="990.3" y2="726.0" stroke-width="3.5"/>
<line x1="1032.7" y1="719" x2="1032.7" y2="724.0" stroke-width="3.5"/>
<line x1="1075.0" y1="719" x2="1075.0" y2="726.0" stroke-width="3.5"/>
<line x1="1117.4" y1="719" x2="1117.4" y2="724.0" stroke-width="3.5"/>
</g>
<text x="728" y="731.0" text-anchor="end" style="font-family:'Liberation Serif','Times New Roman',serif;font-size:35px" fill="#111">0</text>
<text x="728" y="670.8" text-anchor="end" style="font-family:'Liberation Serif','Times New Roman',serif;font-size:35px" fill="#111">5</text>
<text x="728" y="610.6" text-anchor="end" style="font-family:'Liberation Serif','Times New Roman',serif;font-size:35px" fill="#111">10</text>
<text x="728" y="550.4" text-anchor="end" style="font-family:'Liberation Serif','Times New Roman',serif;font-size:35px" fill="#111">15</text>
<text x="728" y="490.2" text-anchor="end" style="font-family:'Liberation Serif','Times New Roman',serif;font-size:35px" fill="#111">20</text>
<text x="728" y="430.0" text-anchor="end" style="font-family:'Liberation Serif','Times New Roman',serif;font-size:35px" fill="#111">25</text>
<text x="737.3" y="758" text-anchor="middle" style="font-family:'Liberation Serif','Times New Roman',serif;font-size:35px" fill="#111" stroke="#111" stroke-width="0.9">0</text>
<text x="822.0" y="758" text-anchor="middle" style="font-family:'Liberation Serif','Times New Roman',serif;font-size:35px" fill="#111" stroke="#111" stroke-width="0.9">20</text>
<text x="906.7" y="758" text-anchor="middle" style="font-family:'Liberation Serif','Times New Roman',serif;font-size:35px" fill="#111" stroke="#111" stroke-width="0.9">40</text>
<text x="991.3" y="758" text-anchor="middle" style="font-family:'Liberation Serif','Times New Roman',serif;font-size:35px" fill="#111" stroke="#111" stroke-width="0.9">60</text>
<text x="1076.0" y="758" text-anchor="middle" style="font-family:'Liberation Serif','Times New Roman',serif;font-size:35px" fill="#111" stroke="#111" stroke-width="0.9">80</text>
<text transform="translate(680,556) rotate(-90)" text-anchor="middle" style="font-family:'Liberation Serif','Times New Roman',serif;font-size:35px" fill="#111">I (μA)</text>
<text x="947" y="793" text-anchor="middle" style="font-family:'Liberation Serif','Times New Roman',serif;font-size:35px" fill="#111" stroke="#111" stroke-width="0.9">Conc.of Hg (II) / nM</text>
<text x="749" y="433" style="font-family:'Liberation Serif','Times New Roman',serif;font-size:35px" fill="#111" stroke="#111" stroke-width="0.5">y = 2.0116 + 0.2621x</text>
<text x="749" y="475" style="font-family:'Liberation Serif','Times New Roman',serif;font-size:35px" fill="#111" stroke="#111" stroke-width="0.5">R = 0.9988</text>
<g stroke="#b4b4b4" stroke-width="1.8">
<line x1="778.6" y1="663.0" x2="778.6" y2="691.9"/>
<line x1="821.0" y1="622.3" x2="821.0" y2="651.2"/>
<line x1="863.3" y1="580.7" x2="863.3" y2="609.6"/>
<line x1="905.7" y1="549.2" x2="905.7" y2="578.1"/>
<line x1="948.0" y1="517.2" x2="948.0" y2="546.1"/>
<line x1="990.3" y1="483.9" x2="990.3" y2="512.8"/>
<line x1="1032.7" y1="451.7" x2="1032.7" y2="480.6"/>
<line x1="1075.0" y1="428.4" x2="1075.0" y2="457.3"/>
<line x1="1117.4" y1="404.4" x2="1117.4" y2="433.3"/>
</g>
<line x1="778.7" y1="665.4" x2="1118.4" y2="403.1" stroke="#000" stroke-width="3.5"/>
<rect x="772.6" y="671.5" width="12" height="12" fill="#000"/>
<rect x="815.0" y="630.8" width="12" height="12" fill="#000"/>
<rect x="857.3" y="589.1" width="12" height="12" fill="#000"/>
<rect x="899.7" y="557.7" width="12" height="12" fill="#000"/>
<rect x="942.0" y="525.7" width="12" height="12" fill="#000"/>
<rect x="984.3" y="492.3" width="12" height="12" fill="#000"/>
<rect x="1026.7" y="460.2" width="12" height="12" fill="#000"/>
<rect x="1069.0" y="436.8" width="12" height="12" fill="#000"/>
<rect x="1111.4" y="412.8" width="12" height="12" fill="#000"/>
<rect x="272" y="34" width="888" height="773" fill="none" stroke="#000" stroke-width="5"/>
<g stroke="#000" fill="none">
<line x1="1339" y1="813.5" x2="2300" y2="813.5" stroke-width="4.5"/>
<line x1="1364.0" y1="813.5" x2="1364.0" y2="805.5" stroke-width="3.5"/>
<line x1="1444.8" y1="813.5" x2="1444.8" y2="799.5" stroke-width="3.5"/>
<line x1="1525.6" y1="813.5" x2="1525.6" y2="805.5" stroke-width="3.5"/>
<line x1="1606.4" y1="813.5" x2="1606.4" y2="799.5" stroke-width="3.5"/>
<line x1="1687.2" y1="813.5" x2="1687.2" y2="805.5" stroke-width="3.5"/>
<line x1="1768.0" y1="813.5" x2="1768.0" y2="799.5" stroke-width="3.5"/>
<line x1="1848.8" y1="813.5" x2="1848.8" y2="805.5" stroke-width="3.5"/>
<line x1="1929.6" y1="813.5" x2="1929.6" y2="799.5" stroke-width="3.5"/>
<line x1="2010.4" y1="813.5" x2="2010.4" y2="805.5" stroke-width="3.5"/>
<line x1="2091.2" y1="813.5" x2="2091.2" y2="799.5" stroke-width="3.5"/>
<line x1="2172.0" y1="813.5" x2="2172.0" y2="805.5" stroke-width="3.5"/>
<line x1="2252.8" y1="813.5" x2="2252.8" y2="799.5" stroke-width="3.5"/>
</g>
<text x="1435.8" y="876" text-anchor="middle" style="font-family:'Liberation Serif','Times New Roman',serif;font-size:56px" fill="#000">-0.4</text>
<text x="1768.0" y="876" text-anchor="middle" style="font-family:'Liberation Serif','Times New Roman',serif;font-size:56px" fill="#000">0</text>
<text x="2094.2" y="876" text-anchor="middle" style="font-family:'Liberation Serif','Times New Roman',serif;font-size:56px" fill="#000">0.4</text>
<text x="1480" y="942" style="font-family:'Liberation Serif','Times New Roman',serif;font-weight:bold;font-size:56px" fill="#000">Potential (V vs. Fc/Fc<tspan dy="-22" font-size="38">+</tspan><tspan dy="22">)</tspan></text>
<line x1="1339" y1="788" x2="2165" y2="788" stroke="#000" stroke-width="6"/>
<path d="M1992,786.5 L2096,786.5" stroke="#000" stroke-width="10.5" fill="none"/>
<path d="M2094,787.6 L2165,787.6" stroke="#000" stroke-width="8" fill="none" stroke-linecap="round"/>
<path d="M1846.0,787.5 C1851.7,787.4 1870.5,787.3 1880.0,787.0 C1889.5,786.7 1896.0,786.3 1903.0,785.5 C1910.0,784.7 1916.2,783.6 1922.0,782.0 C1927.8,780.4 1933.2,778.3 1938.0,776.0 C1942.8,773.7 1946.9,771.0 1951.0,768.0 C1955.1,765.0 1959.3,761.2 1962.8,757.7 C1966.3,754.2 1969.2,750.8 1972.0,747.0 C1974.8,743.2 1976.6,740.9 1979.7,735.2 C1982.8,729.5 1987.4,719.6 1990.4,712.6 C1993.5,705.6 1995.5,699.6 1998.0,693.0 C2000.5,686.4 2002.6,680.2 2005.3,673.0 C2008.0,665.8 2011.0,657.5 2014.0,650.0 C2017.0,642.5 2020.1,635.3 2023.3,628.0 C2026.5,620.7 2029.7,612.3 2033.0,606.0 C2036.3,599.7 2039.8,594.2 2043.0,590.0 C2046.2,585.8 2049.2,582.2 2052.5,580.5 C2055.8,578.8 2058.9,578.8 2062.5,580.0 C2066.1,581.2 2070.2,582.8 2074.0,588.0 C2077.8,593.2 2081.2,602.7 2085.0,611.0 C2088.8,619.3 2092.8,628.6 2096.5,637.8 C2100.2,647.0 2103.8,656.6 2107.5,666.0 C2111.2,675.4 2114.8,685.6 2118.5,694.3 C2122.2,703.0 2126.2,710.7 2130.0,718.0 C2133.8,725.3 2138.0,732.7 2141.5,738.0 C2145.0,743.3 2148.2,747.2 2151.0,750.0 C2153.8,752.8 2156.8,754.2 2158.0,755.0" fill="none" stroke="#0e06b4" stroke-width="7.8" stroke-linecap="butt" stroke-linejoin="round"/>
<path d="M1836.0,787.0 C1841.7,786.9 1860.2,786.8 1870.0,786.5 C1879.8,786.2 1887.5,785.8 1895.0,785.0 C1902.5,784.2 1908.8,783.1 1915.0,781.5 C1921.2,779.9 1926.8,777.9 1932.0,775.5 C1937.2,773.1 1941.9,770.0 1946.0,767.0 C1950.1,764.0 1953.5,761.0 1956.8,757.7 C1960.1,754.4 1963.2,750.8 1966.0,747.0 C1968.8,743.2 1970.6,740.9 1973.7,735.2 C1976.8,729.5 1981.4,719.6 1984.4,712.6 C1987.5,705.6 1989.5,699.6 1992.0,693.0 C1994.5,686.4 1996.6,680.2 1999.3,673.0 C2002.0,665.8 2005.0,657.5 2008.0,650.0 C2011.0,642.5 2013.8,635.3 2017.3,628.0 C2020.8,620.7 2025.2,613.2 2029.0,606.0 C2032.8,598.8 2036.2,590.7 2040.0,585.0 C2043.8,579.3 2047.7,575.0 2052.0,572.0 C2056.3,569.0 2061.5,567.0 2066.0,567.0 C2070.5,567.0 2074.8,567.5 2079.0,572.0 C2083.2,576.5 2087.3,586.2 2091.0,594.0 C2094.7,601.8 2097.6,610.4 2101.0,619.0 C2104.4,627.6 2108.1,636.8 2111.5,645.5 C2114.9,654.2 2118.2,662.4 2121.5,671.0 C2124.8,679.6 2127.7,688.9 2131.0,696.9 C2134.3,704.9 2138.0,712.0 2141.5,719.0 C2145.0,726.0 2149.0,733.8 2152.0,739.0 C2155.0,744.2 2157.7,747.5 2159.5,750.0 C2161.3,752.5 2162.4,753.3 2163.0,754.0" fill="none" stroke="#0e06b4" stroke-width="7.8" stroke-linecap="butt" stroke-linejoin="round"/>
<circle cx="2161" cy="753.5" r="6.5" fill="#0e06b4"/>
<path d="M1920.0,786.5 C1922.5,786.2 1930.0,785.8 1935.0,784.5 C1940.0,783.2 1945.6,781.2 1950.0,779.0 C1954.4,776.8 1957.0,774.5 1961.5,771.0 C1966.0,767.5 1973.1,761.7 1977.1,757.7 C1981.1,753.7 1983.0,750.8 1985.5,747.0 C1988.0,743.2 1989.1,740.9 1991.8,735.2 C1994.5,729.5 1999.0,719.8 2001.9,712.6 C2004.9,705.4 2007.1,698.6 2009.5,692.0 C2011.9,685.4 2013.9,680.2 2016.2,672.9 C2018.5,665.6 2021.1,656.5 2023.5,648.0 C2025.9,639.5 2028.7,630.0 2030.5,622.0 C2032.3,614.0 2033.3,607.1 2034.5,600.0 C2035.7,592.9 2036.1,588.5 2037.4,579.2 C2038.7,569.9 2040.4,557.0 2042.5,544.3 C2044.6,531.6 2047.4,516.9 2049.8,503.2 C2052.2,489.5 2054.7,475.8 2056.9,462.1 C2059.1,448.4 2061.2,434.7 2063.1,421.0 C2065.0,407.3 2066.7,391.0 2068.2,380.0 C2069.7,369.0 2070.8,363.4 2072.0,355.0 C2073.2,346.6 2074.3,337.7 2075.5,329.4 C2076.7,321.1 2077.7,313.9 2079.2,305.0 C2080.7,296.1 2082.7,285.6 2084.5,276.0 C2086.3,266.4 2088.2,256.8 2090.0,247.5 C2091.8,238.2 2093.3,228.6 2095.0,220.0 C2096.7,211.4 2098.3,203.2 2100.1,196.0 C2101.9,188.8 2103.7,184.0 2106.1,177.0 C2108.4,170.0 2111.4,161.9 2114.3,154.0 C2117.2,146.1 2121.5,134.8 2123.5,129.3 C2125.5,123.8 2125.1,123.4 2126.0,121.0 C2126.9,118.6 2127.8,116.5 2129.0,115.0 C2130.2,113.5 2131.7,112.1 2133.0,112.0 C2134.3,111.9 2135.8,113.2 2137.0,114.5 C2138.2,115.8 2139.3,117.5 2140.5,120.0 C2141.7,122.5 2142.7,125.8 2144.0,129.3 C2145.3,132.8 2147.0,136.9 2148.5,141.0 C2150.0,145.1 2151.5,149.7 2152.8,154.0 C2154.1,158.3 2155.4,162.9 2156.5,167.0 C2157.6,171.1 2158.9,175.4 2159.6,178.6 C2160.3,181.8 2160.3,184.8 2160.5,186.0" fill="none" stroke="#ee0008" stroke-width="6.8" stroke-linecap="butt" stroke-linejoin="round"/>
<path d="M1914.0,786.5 C1916.5,786.2 1923.8,785.8 1929.0,784.5 C1934.2,783.2 1940.1,781.2 1945.0,779.0 C1949.9,776.8 1953.7,774.5 1958.5,771.0 C1963.3,767.5 1970.1,761.7 1974.1,757.7 C1978.1,753.7 1980.0,750.8 1982.5,747.0 C1985.0,743.2 1986.1,740.9 1988.8,735.2 C1991.5,729.5 1996.0,719.8 1998.9,712.6 C2001.9,705.4 2004.1,698.6 2006.5,692.0 C2008.9,685.4 2010.9,680.2 2013.2,672.9 C2015.5,665.6 2018.1,656.5 2020.5,648.0 C2022.9,639.5 2025.7,630.0 2027.5,622.0 C2029.3,614.0 2030.3,607.1 2031.5,600.0 C2032.7,592.9 2033.1,588.5 2034.4,579.2 C2035.7,569.9 2037.4,557.0 2039.5,544.3 C2041.6,531.6 2044.4,516.9 2046.8,503.2 C2049.2,489.5 2051.7,475.8 2053.9,462.1 C2056.1,448.4 2058.2,434.7 2060.1,421.0 C2062.0,407.3 2063.7,391.0 2065.2,380.0 C2066.7,369.0 2067.8,363.4 2069.0,355.0 C2070.2,346.6 2071.3,337.7 2072.5,329.4 C2073.7,321.1 2074.7,313.9 2076.2,305.0 C2077.7,296.1 2079.7,285.6 2081.5,276.0 C2083.3,266.4 2085.2,256.8 2087.0,247.5 C2088.8,238.2 2090.4,228.6 2092.0,220.0 C2093.6,211.4 2095.2,203.2 2096.9,196.0 C2098.6,188.8 2099.9,184.0 2101.9,177.0 C2103.9,170.0 2106.4,161.9 2108.9,154.0 C2111.4,146.1 2114.9,135.5 2116.9,129.3 C2118.9,123.1 2119.7,121.2 2121.0,117.0 C2122.3,112.8 2123.7,107.7 2125.0,104.0 C2126.3,100.3 2127.7,97.3 2129.0,95.0 C2130.3,92.7 2131.7,90.6 2133.1,90.3 C2134.5,90.0 2136.1,91.2 2137.5,93.0 C2138.9,94.8 2140.1,97.5 2141.5,101.0 C2142.9,104.5 2144.5,109.3 2146.0,114.0 C2147.5,118.7 2149.0,124.8 2150.5,129.3 C2152.0,133.8 2153.6,136.9 2155.0,141.0 C2156.4,145.1 2157.9,149.7 2159.2,154.0 C2160.5,158.3 2161.9,162.9 2163.0,167.0 C2164.1,171.1 2165.4,175.4 2166.0,178.6 C2166.6,181.8 2166.7,184.8 2166.8,186.0" fill="none" stroke="#ee0008" stroke-width="6.8" stroke-linecap="butt" stroke-linejoin="round"/>
<line x1="1963.0" y1="88.0" x2="2078.0" y2="88.0" stroke="#e2303c" stroke-width="3.5"/><polygon points="2113.0,88.0 2076.0,98.0 2076.0,78.0" fill="#ee0008"/>
<line x1="2041.6" y1="379.8" x2="2064.7" y2="250.0" stroke="#c8404c" stroke-width="3.0"/><polygon points="2070.3,218.5 2073.5,253.6 2055.2,250.3" fill="#ee0008"/>
<line x1="2116.6" y1="216.4" x2="2094.4" y2="346.3" stroke="#c8404c" stroke-width="3.0"/><polygon points="2088.8,378.8 2085.5,342.7 2103.9,345.9" fill="#ee0008"/>
<line x1="1904.0" y1="555.7" x2="2017.0" y2="555.7" stroke="#2c2c8c" stroke-width="3.5"/><polygon points="2050.0,555.7 2015.0,565.2 2015.0,546.2" fill="#0e06b4"/>
<line x1="2063.2" y1="619.9" x2="2095.7" y2="683.0" stroke="#2c2c8c" stroke-width="3.0"/><polygon points="2109.4,709.7 2086.5,685.5 2103.0,677.0" fill="#0e06b4"/>
<line x1="2159.4" y1="691.7" x2="2130.6" y2="626.7" stroke="#2c2c8c" stroke-width="3.0"/><polygon points="2118.4,599.3 2139.9,624.8 2122.9,632.3" fill="#0e06b4"/>
<text transform="translate(1275.5,117) scale(1.07,1)" style="font-family:'Liberation Serif','Times New Roman',serif;font-weight:bold;font-size:86px" fill="#000">(b)</text>
<text transform="translate(1418.0,103.0) scale(1.12,0.93)" style="font-family:'Liberation Serif','Times New Roman',serif;font-weight:bold;font-size:70px" fill="#ee0008">σ</text><text x="1465.0" y="117.5" style="font-family:'Liberation Serif','Times New Roman',serif;font-weight:bold;font-size:54px;letter-spacing:1px" fill="#ee0008">max</text><text transform="translate(1584.0,102.0) scale(1.2,0.92)" style="font-family:'Liberation Serif','Times New Roman',serif;font-weight:bold;font-size:70px" fill="#ee0008">=</text><text x="1643.0" y="103.0" style="font-family:'Liberation Serif','Times New Roman',serif;font-weight:bold;font-size:71px" fill="#ee0008">5.20 S/cm</text>
<text transform="translate(1358.0,571.0) scale(1.12,0.93)" style="font-family:'Liberation Serif','Times New Roman',serif;font-weight:bold;font-size:70px" fill="#0e06b4">σ</text><text x="1405.0" y="585.5" style="font-family:'Liberation Serif','Times New Roman',serif;font-weight:bold;font-size:54px;letter-spacing:1px" fill="#0e06b4">max</text><text transform="translate(1524.0,570.0) scale(1.2,0.92)" style="font-family:'Liberation Serif','Times New Roman',serif;font-weight:bold;font-size:70px" fill="#0e06b4">=</text><text x="1584.0" y="571.0" style="font-family:'Liberation Serif','Times New Roman',serif;font-weight:bold;font-size:71px" fill="#0e06b4">1.71 S/cm</text>
<text x="2184" y="141" style="font-family:'Liberation Serif','Times New Roman',serif;font-weight:bold;font-size:54px" fill="#c8101e">Ca<tspan dy="-27" font-size="38">2+</tspan></text>
<text x="2072" y="545" style="font-family:'Liberation Serif','Times New Roman',serif;font-weight:bold;font-size:54px" fill="#0e06b4">Ba<tspan dy="-27" font-size="38">2+</tspan></text>
<text x="2041" y="764" style="font-family:'Liberation Serif','Times New Roman',serif;font-weight:bold;font-size:54px" fill="#000">K<tspan dy="-25" font-size="37">+</tspan></text></svg>
</body></html>
